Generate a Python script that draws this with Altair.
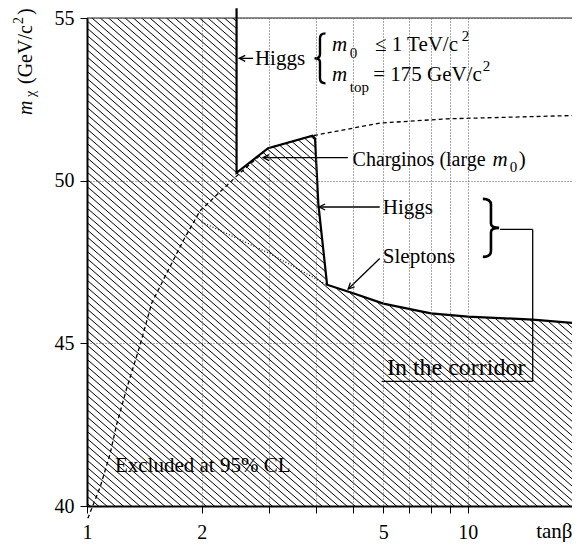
import altair as alt
import pandas as pd
import numpy as np

# ---------------- data ----------------
# solid boundary of the excluded region (tan beta, m_chi in GeV/c^2)
bound_tanb = [2.47, 2.47, 2.99, 3.91, 3.97, 4.05, 4.27, 5.0, 6.0, 7.0, 8.0, 10.0, 14.8, 20.0]
bound_m = [55.3, 50.24, 51.0, 51.38, 51.30, 49.28, 46.80, 46.54, 46.22, 46.06, 45.92, 45.82, 45.73, 45.60]

# dashed curve
dash_tanb = [1.005, 1.082, 1.149, 1.196, 1.271, 1.377, 1.479, 1.618, 1.790, 1.980,
             2.47, 2.99, 3.91, 5.87, 8.79, 20.0]
dash_m = [39.62, 40.57, 41.59, 42.50, 43.61, 44.93, 46.24, 47.15, 48.16, 49.07,
          50.14, 51.0, 51.38, 51.77, 51.90, 52.01]

# dotted curve
dot_tanb = [2.0, 3.02, 4.26]
dot_m = [48.73, 47.76, 46.80]

# axis
x_tick_values = [1, 2, 3, 4, 5, 6, 7, 8, 9, 10]
y_tick_values = [40, 45, 50, 55]

# annotation texts: (text, tanb, m, size, italic)
labels_text = ["Higgs", "m", "0", "≤ 1 TeV/c", "2", "m", "top", "= 175 GeV/c", "2",
               "Charginos (large", "m", "0", ")", "Higgs", "Sleptons",
               "In the corridor", "Excluded at 95% CL"]
labels_x = [2.76, 4.40, 4.90, 5.70, 9.64, 4.40, 4.90, 5.64, 10.95,
            4.98, 11.6, 12.88, 13.6, 5.98, 5.98, 6.13, 1.184]
labels_y = [53.54, 53.98, 53.77, 53.98, 54.29, 53.07, 52.74, 53.07, 53.38,
            50.44, 50.44, 50.28, 50.44, 48.97, 47.46, 44.03, 41.03]
labels_size = [21, 21, 15, 21, 15, 21, 15, 21, 15, 20, 21, 15, 21, 21, 21, 24, 21]
labels_italic = [False, True, False, False, False, True, False, False, False,
                 False, True, False, False, False, False, False, False]

# arrow shafts and corridor bracket segments
seg_x = [2.73, 4.84, 5.87, 5.87, 12.15, 14.8, 14.8]
seg_y = [53.76, 50.71, 49.19, 47.61, 48.50, 48.50, 43.83]
seg_x2 = [2.51, 2.90, 4.07, 4.85, 14.8, 14.8, 5.94]
seg_y2 = [53.76, 50.71, 49.19, 46.67, 48.50, 43.83, 43.83]

# arrow heads (tip positions, direction in degrees)
head_x = [2.51, 2.90, 4.07, 4.85]
head_y = [53.76, 50.71, 49.19, 46.67]
head_angle = [180, 180, 180, 135.6]

# braces
lbrace_x, lbrace_y = [4.09], [53.76]
rbrace_x, rbrace_y = [11.5], [48.55]

# ---------------- chart ----------------
W, H = 485, 488
XMIN, XMAX, YMIN, YMAX = 1.0, 18.77, 40.0, 55.0
FONT = "Liberation Serif"

xscale = alt.Scale(type="log", domain=[XMIN, XMAX], nice=False)
yscale = alt.Scale(domain=[YMIN, YMAX], nice=False, zero=False)

xaxis = alt.Axis(
    values=x_tick_values,
    labelExpr="datum.value == 1 ? '1' : datum.value == 2 ? '2' : datum.value == 6 ? '5' : datum.value == 10 ? '10' : ''",
    grid=True, gridDash=[1, 2], gridColor="#555", gridWidth=1,
    domainColor="black", domainWidth=2,
    tickColor="black", tickSize=7, tickWidth=1,
    labelFont=FONT, labelFontSize=20, labelColor="black", labelPadding=9,
    labelFlush=False, labelOverlap=False,
    title="tanβ", titleFont=FONT, titleFontSize=21, titleFontWeight="normal",
    titleColor="black", titleAnchor="end", titleAlign="right",
    titleBaseline="alphabetic", titleY=31, zindex=1,
)
yaxis = alt.Axis(
    values=y_tick_values, grid=True, gridDash=[1, 2], gridColor="#555", gridWidth=1,
    domainColor="black", domainWidth=2,
    tickColor="black", tickSize=7, tickWidth=1,
    labelFont=FONT, labelFontSize=20, labelColor="black", labelPadding=6,
    title=None, zindex=1,
)


def X(f="x"):
    return alt.X(f"{f}:Q", scale=xscale, axis=xaxis)


def Y(f="y"):
    return alt.Y(f"{f}:Q", scale=yscale, axis=yaxis)


# hatching: parallel lines in pixel space, converted to data space
slope, gap = 0.87, 7.2
ks = np.arange(-slope * W - gap, H + gap, gap)
px0, px1 = -4.0, W + 4.0
lx = np.log10(XMAX)
hatch = pd.DataFrame({
    "x": 10 ** (px0 / W * lx) * np.ones_like(ks),
    "x2": 10 ** (px1 / W * lx) * np.ones_like(ks),
    "y": YMAX - (slope * px0 + ks) * (YMAX - YMIN) / H,
    "y2": YMAX - (slope * px1 + ks) * (YMAX - YMIN) / H,
})
hatch_layer = alt.Chart(hatch).mark_rule(color="black", strokeWidth=1, clip=True).encode(
    x=X(), y=Y(), x2="x2:Q", y2="y2:Q")

bound = pd.DataFrame({"x": bound_tanb, "y": bound_m, "o": range(len(bound_tanb))})
free = bound.iloc[1:].copy()
free["top"] = YMAX
white_layer = alt.Chart(free).mark_area(color="white", opacity=1, clip=True).encode(
    x=X(), y=Y(), y2="top:Q")

dot_layer = alt.Chart(pd.DataFrame({"x": dot_tanb, "y": dot_m})).mark_line(
    color="black", strokeWidth=1.2, strokeDash=[1, 2]).encode(x=X(), y=Y())

dash_layer = alt.Chart(pd.DataFrame({"x": dash_tanb, "y": dash_m, "o": range(len(dash_tanb))})).mark_line(
    color="black", strokeWidth=1.3, strokeDash=[4, 3]).encode(x=X(), y=Y(), order="o:Q")

top_layer = alt.Chart(pd.DataFrame({"x": [XMIN], "x2": [XMAX], "y": [YMAX]})).mark_rule(
    color="#222", strokeWidth=1.2).encode(x=X(), x2="x2:Q", y=Y())

bound_layer = alt.Chart(bound).mark_line(color="black", strokeWidth=2.2, clip=False).encode(
    x=X(), y=Y(), order="o:Q")

seg_layer = alt.Chart(pd.DataFrame({"x": seg_x, "y": seg_y, "x2": seg_x2, "y2": seg_y2})).mark_rule(
    color="black", strokeWidth=1.3).encode(x=X(), y=Y(), x2="x2:Q", y2="y2:Q")

head_layer = alt.Chart(pd.DataFrame({"x": head_x, "y": head_y, "a": head_angle})).mark_point(
    shape="M -1.5 -0.75 L 0 0 L -1.5 0.75", size=64, filled=False, color="black",
    strokeWidth=1.3, opacity=1).encode(x=X(), y=Y(), angle=alt.Angle("a:Q", scale=None))

lbrace_layer = alt.Chart(pd.DataFrame({"x": lbrace_x, "y": lbrace_y})).mark_point(
    shape="M 0.22 -1 Q 0 -1 0 -0.8 L 0 -0.15 Q 0 0 -0.22 0 Q 0 0 0 0.15 L 0 0.8 Q 0 1 0.22 1",
    size=2500, filled=False, color="black", strokeWidth=2.4, opacity=1).encode(x=X(), y=Y())

rbrace_layer = alt.Chart(pd.DataFrame({"x": rbrace_x, "y": rbrace_y})).mark_point(
    shape="M -0.28 -1 Q 0 -1 0 -0.8 L 0 -0.15 Q 0 0 0.28 0 Q 0 0 0 0.15 L 0 0.8 Q 0 1 -0.28 1",
    size=3364, filled=False, color="black", strokeWidth=2.6, opacity=1).encode(x=X(), y=Y())

text_layers = []
for t, x, y, s, it in zip(labels_text, labels_x, labels_y, labels_size, labels_italic):
    text_layers.append(
        alt.Chart(pd.DataFrame({"x": [x], "y": [y], "t": [t]})).mark_text(
            align="left", baseline="alphabetic", font=FONT, fontSize=s,
            fontStyle="italic" if it else "normal", color="black").encode(
            x=X(), y=Y(), text="t:N"))

# y-axis title pieces (rotated), positioned in pixels relative to the plot area
ytitle = [("m", -55.3, 97, 20, True), ("χ", -52, 79, 14, False),
          ("(GeV/c", -55.3, 66, 20, False), ("2", -64, 6, 14, False),
          (")", -55.3, -3, 20, False)]
ytitle_layers = []
for t, px, py, s, it in ytitle:
    ytitle_layers.append(
        alt.Chart(pd.DataFrame({"t": [t]})).mark_text(
            align="left", baseline="alphabetic", angle=270, font=FONT, fontSize=s,
            fontStyle="italic" if it else "normal", color="black").encode(
            x=alt.value(px), y=alt.value(py), text="t:N"))

chart = alt.layer(
    hatch_layer, white_layer, dot_layer, dash_layer, top_layer, bound_layer,
    seg_layer, head_layer, lbrace_layer, rbrace_layer, *text_layers, *ytitle_layers
).properties(
    width=W, height=H,
    padding={"left": 79, "top": 10, "right": 0, "bottom": 36},
    autosize=alt.AutoSizeParams(type="none"),
).configure_view(stroke=None)

chart.save("out.html", embed_options={"renderer": "svg", "actions": False})
